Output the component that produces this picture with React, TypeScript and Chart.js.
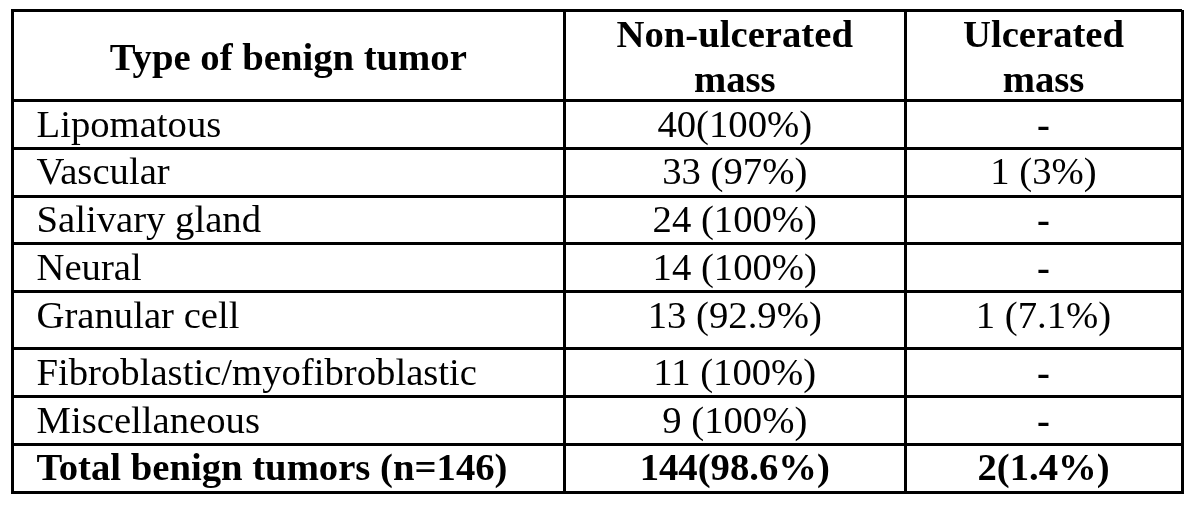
import React, { useEffect, useRef } from "react";
import { Chart, registerables } from "chart.js";

Chart.register(...registerables);

// ---- Data ----
const headerFirst = "Type of benign tumor";
const headerNonUlcerated = ["Non-ulcerated", "mass"];
const headerUlcerated = ["Ulcerated", "mass"];

const tumorTypes = [
  "Lipomatous",
  "Vascular",
  "Salivary gland",
  "Neural",
  "Granular cell",
  "Fibroblastic/myofibroblastic",
  "Miscellaneous",
];
const nonUlceratedValues = [
  "40(100%)",
  "33 (97%)",
  "24 (100%)",
  "14 (100%)",
  "13 (92.9%)",
  "11 (100%)",
  "9 (100%)",
];
const ulceratedValues = ["-", "1 (3%)", "-", "-", "1 (7.1%)", "-", "-"];

const totalLabel = "Total benign tumors (n=146)";
const totalNonUlcerated = "144(98.6%)";
const totalUlcerated = "2(1.4%)";

// ---- Layout (sizes in scale units) ----
const COL_WIDTHS = [552.5, 340.5, 277];
const ROW_HEIGHTS = [90.5, 47.5, 48, 47.5, 48, 57, 48, 48, 47.5];

const cumulative = (arr: number[]) => {
  const out = [0];
  arr.forEach((v) => out.push(out[out.length - 1] + v));
  return out;
};
const colEdges = cumulative(COL_WIDTHS);
const rowEdges = cumulative(ROW_HEIGHTS);

const FONT_SIZE = 38.7;
const FAMILY = '"Liberation Serif", "Times New Roman", serif';

const tablePlugin = {
  id: "tableText",
  afterDraw(chart: any) {
    const ctx = chart.ctx as CanvasRenderingContext2D;
    const xs = chart.scales.x;
    const ys = chart.scales.y;
    const px = (v: number) => xs.getPixelForValue(v);
    const py = (v: number) => ys.getPixelForValue(v);
    ctx.save();
    ctx.fillStyle = "#000";
    ctx.textBaseline = "alphabetic";

    const regular = `${FONT_SIZE}px ${FAMILY}`;
    const bold = `bold ${FONT_SIZE}px ${FAMILY}`;

    const colCenter = (i: number) => px((colEdges[i] + colEdges[i + 1]) / 2);
    const leftText = px(colEdges[0]) + 24.5;

    // header
    const hTop = py(rowEdges[0]);
    ctx.font = bold;
    ctx.textAlign = "center";
    ctx.fillText(headerFirst, colCenter(0), hTop + 59.5);
    ctx.fillText(headerNonUlcerated[0], colCenter(1), hTop + 36.5);
    ctx.fillText(headerNonUlcerated[1], colCenter(1), hTop + 81.5);
    ctx.fillText(headerUlcerated[0], colCenter(2), hTop + 36.5);
    ctx.fillText(headerUlcerated[1], colCenter(2), hTop + 81.5);

    // body rows
    tumorTypes.forEach((name, i) => {
      const base = py(rowEdges[i + 1]) + 36;
      ctx.font = regular;
      ctx.textAlign = "left";
      ctx.fillText(name, leftText, base);
      ctx.textAlign = "center";
      ctx.fillText(nonUlceratedValues[i], colCenter(1), base);
      const u = ulceratedValues[i];
      ctx.font = u === "-" ? bold : regular;
      ctx.fillText(u, colCenter(2), base);
    });

    // total row
    ctx.font = bold;
    const tBase = py(rowEdges[tumorTypes.length + 1]) + 35;
    ctx.textAlign = "left";
    ctx.fillText(totalLabel, leftText, tBase);
    ctx.textAlign = "center";
    ctx.fillText(totalNonUlcerated, colCenter(1), tBase);
    ctx.fillText(totalUlcerated, colCenter(2), tBase);
    ctx.restore();
  },
};

export default function App() {
  const canvasRef = useRef<HTMLCanvasElement | null>(null);

  useEffect(() => {
    if (!canvasRef.current) return;
    const lineStyle = { color: "#000", lineWidth: 3, drawTicks: false, tickLength: 0 };
    const chart = new Chart(canvasRef.current, {
      type: "scatter",
      data: { datasets: [{ data: [], showLine: false }] },
      options: {
        animation: false,
        responsive: false,
        devicePixelRatio: 1,
        layout: { padding: { left: 12, top: 10, right: 18, bottom: 16 } },
        plugins: { legend: { display: false }, tooltip: { enabled: false }, title: { display: false } },
        scales: {
          x: {
            type: "linear",
            min: colEdges[0],
            max: colEdges[colEdges.length - 1],
            grid: lineStyle as any,
            border: { display: true, color: "#000", width: 3 },
            ticks: { display: false },
            afterBuildTicks: (scale: any) => {
              scale.ticks = colEdges.map((v) => ({ value: v }));
            },
          },
          y: {
            type: "linear",
            reverse: true,
            min: rowEdges[0],
            max: rowEdges[rowEdges.length - 1],
            grid: lineStyle as any,
            border: { display: true, color: "#000", width: 3 },
            ticks: { display: false },
            afterBuildTicks: (scale: any) => {
              scale.ticks = rowEdges.map((v) => ({ value: v }));
            },
          },
        },
      },
      plugins: [tablePlugin],
    });
    return () => chart.destroy();
  }, []);

  return (
    <div style={{ position: "fixed", left: 0, top: 0, width: 1200, height: 508, background: "#fff" }}>
      <canvas ref={canvasRef} width={1200} height={508} style={{ display: "block" }} />
    </div>
  );
}
